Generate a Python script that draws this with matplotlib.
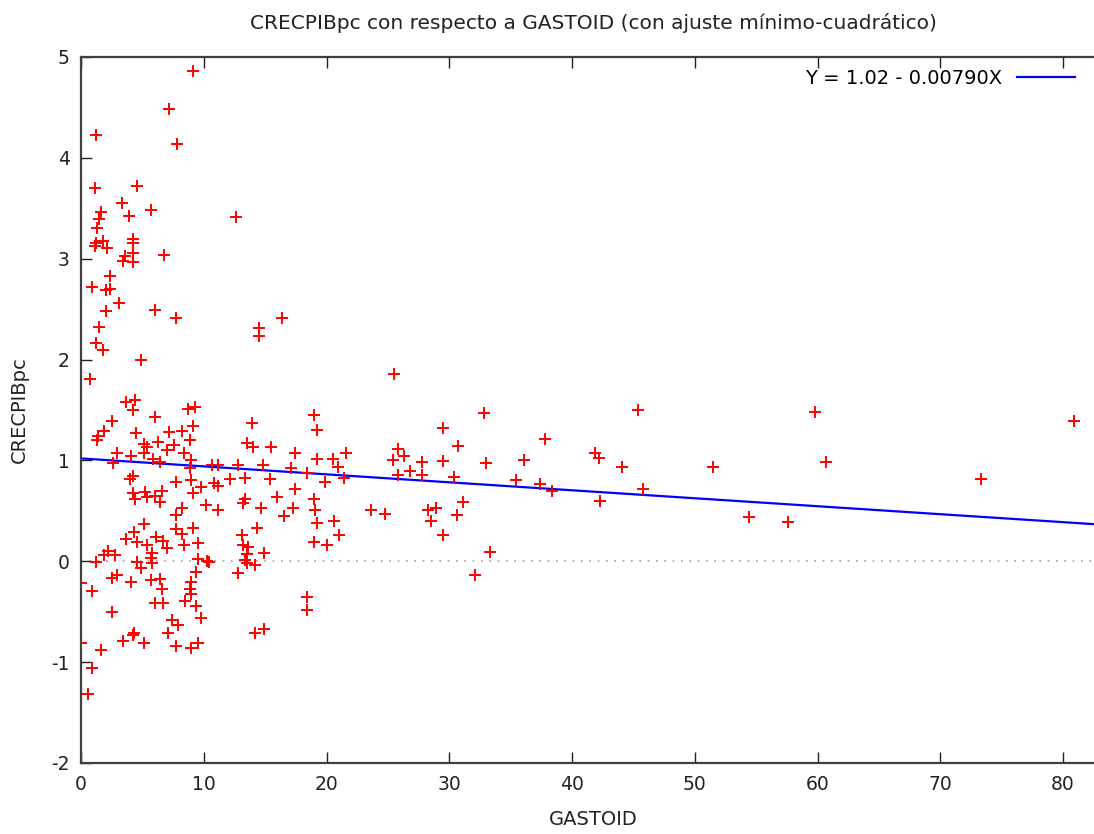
import numpy as np
import matplotlib
matplotlib.use("Agg")
import matplotlib.pyplot as plt

# GASTOID (x) and CRECPIBpc (y)
gastoid = [
    9.1, 7.2, 1.2, 7.8, 1.1, 4.6,
    3.3, 1.6, 3.9, 5.7, 12.6, 1.5, 1.3, 1.2, 1.8, 1.1, 2.1, 4.2, 4.2, 4.2,
    3.6, 3.4, 4.2, 6.8, 2.4, 0.9, 2.0, 2.4, 3.1, 2.0, 6.0, 7.7, 1.5, 14.5,
    1.2, 1.8, 14.5, 4.9, 0.7, 3.7, 4.4, 4.2, 8.7, 9.3, 6.0, 2.5, 13.9, 1.9,
    1.4, 1.3, 4.5, 7.2, 8.2, 9.1, 8.9, 6.3, 5.1, 5.4, 7.6, 7.0, 8.4, 13.5,
    14.0, 15.5, 2.9, 4.1, 5.1, 2.6, 5.9, 6.4, 9.0, 10.7, 11.2, 12.8, 14.8,
    4.2, 4.0, 7.7, 9.0, 9.8, 10.8, 11.2, 12.1, 13.4, 15.4, 8.9, 4.2, 4.4,
    5.2, 5.4, 6.0, 6.6, 6.4, 9.1, 10.2, 11.2, 13.4, 13.2, 14.7, 8.2, 7.7,
    5.1, 4.3, 3.7, 4.6, 5.4, 6.1, 6.7, 7.0, 7.7, 8.2, 9.1, 8.4, 9.5, 13.1,
    14.3, 13.2, 13.6, 13.5, 14.9, 5.8, 5.7, 5.8, 2.2, 1.9, 2.8, 1.2, 4.6,
    4.9, 9.5, 10.4, 13.4, 13.5, 14.2, 12.8, 9.4, 2.5, 2.9, 4.1, 5.7, 6.4,
    6.6, 9.0, 8.9, 0.0, 0.9, 9.0, 6.0, 6.7, 8.5,
    9.4, 2.5, 7.4, 7.9, 9.8, 7.1, 4.3, 4.2, 3.4, 5.1, 7.7, 9.0, 9.5, 0.0,
    1.6, 0.9, 0.6, 14.2, 14.9,
    19.0, 19.2, 17.4, 19.2, 20.5, 21.6, 17.1, 18.4, 20.9, 21.4, 19.9, 17.4,
    16.0, 19.0, 17.3, 16.5, 19.1, 19.2, 20.6, 21.0, 19.0, 20.0, 10.3, 18.4,
    18.4, 25.8, 26.3, 25.4, 27.8, 26.8, 25.8, 27.8, 29.5, 29.5, 30.7, 30.4,
    32.8, 33.0, 23.6, 24.8, 28.3, 28.9, 28.5, 31.1, 30.6, 29.5, 33.3, 32.1,
    25.5, 16.4,
    35.4, 36.1, 37.8, 37.4, 38.4, 41.9, 42.2, 42.3, 44.1, 45.4, 45.8, 51.5,
    54.4, 57.6, 59.8, 60.7, 73.3, 80.9,
]
crecpibpc = [
    4.86, 4.48, 4.23, 4.14, 3.70, 3.72,
    3.55, 3.46, 3.42, 3.48, 3.41, 3.39, 3.30, 3.16, 3.18, 3.13, 3.11, 3.20, 3.16, 3.06,
    3.03, 2.98, 2.97, 3.04, 2.83, 2.72, 2.69, 2.70, 2.56, 2.48, 2.49, 2.41, 2.32, 2.31,
    2.16, 2.09, 2.23, 2.00, 1.81, 1.58, 1.60, 1.50, 1.51, 1.53, 1.43, 1.39, 1.37, 1.29,
    1.24, 1.20, 1.27, 1.28, 1.29, 1.34, 1.20, 1.18, 1.16, 1.13, 1.15, 1.10, 1.07, 1.17,
    1.13, 1.13, 1.07, 1.04, 1.07, 0.97, 1.01, 0.98, 1.00, 0.95, 0.95, 0.95, 0.95,
    0.85, 0.82, 0.79, 0.81, 0.74, 0.78, 0.75, 0.82, 0.83, 0.82, 0.92, 0.68, 0.62,
    0.69, 0.64, 0.65, 0.70, 0.59, 0.68, 0.56, 0.51, 0.62, 0.58, 0.53, 0.53, 0.46,
    0.37, 0.29, 0.22, 0.19, 0.16, 0.24, 0.20, 0.13, 0.32, 0.27, 0.33, 0.16, 0.18, 0.26,
    0.33, 0.16, 0.14, 0.07, 0.08, 0.08, 0.03, -0.02, 0.10, 0.06, 0.06, -0.01, -0.01,
    -0.07, 0.02, -0.01, 0.01, -0.02, -0.04, -0.12, -0.11, -0.17, -0.14, -0.21, -0.19, -0.18,
    -0.27, -0.21, -0.27, -0.22, -0.29, -0.32, -0.41, -0.41, -0.39,
    -0.44, -0.50, -0.58, -0.63, -0.56, -0.71, -0.71, -0.73, -0.79, -0.81, -0.84, -0.86, -0.81, -0.81,
    -0.88, -1.06, -1.32, -0.71, -0.67,
    1.45, 1.30, 1.07, 1.01, 1.01, 1.07, 0.92, 0.88, 0.93, 0.83, 0.79, 0.72,
    0.64, 0.62, 0.53, 0.45, 0.51, 0.38, 0.40, 0.26, 0.19, 0.16, 0.00, -0.35,
    -0.48, 1.11, 1.04, 1.00, 0.98, 0.90, 0.86, 0.86, 1.32, 0.99, 1.14, 0.84,
    1.47, 0.97, 0.51, 0.47, 0.51, 0.53, 0.40, 0.59, 0.46, 0.26, 0.09, -0.14,
    1.86, 2.41,
    0.81, 1.00, 1.21, 0.77, 0.70, 1.07, 1.02, 0.60, 0.93, 1.50, 0.72, 0.93,
    0.44, 0.39, 1.48, 0.98, 0.82, 1.39,
]

# least-squares fit shown in the key
intercept = 1.02
slope = -0.00790
fit_label = "Y = 1.02 - 0.00790X"

plt.rcParams['font.family'] = ['DejaVu Sans']
plt.rcParams['axes.unicode_minus'] = False
fig = plt.figure(figsize=(10.94, 8.34), dpi=100)
# axes runs a little past the right edge of the picture, like the reference
ax = fig.add_axes([81/1094, 1-763/834, (1106-81)/1094, (763-57)/834])

xmin, xmax = 0, 83.5
ax.axhline(0, color='#a0a0a0', lw=1.2, ls=(0, (1, 4)), zorder=1)
ax.plot(gastoid, crecpibpc, '+', color='#ff0000', markersize=9, markeredgewidth=1.4,
        linestyle='none', zorder=3)
xx = np.array([xmin, xmax])
ax.plot(xx, intercept + slope*xx, color='#0000ff', lw=1.6, label=fit_label, zorder=2)

ax.set_xlim(xmin, xmax)
ax.set_ylim(-2, 5)
ax.set_xticks(range(0, 81, 10))
ax.set_yticks(range(-2, 6))
ax.tick_params(direction='in', length=8, width=1, top=True, right=True,
               labelsize=13.5, colors='#222222')
ax.tick_params(axis='x', pad=9)
ax.tick_params(axis='y', pad=8)
for s in ax.spines.values():
    s.set_color('#404040')
    s.set_linewidth(1.6)

ax.set_title("CRECPIBpc con respecto a GASTOID (con ajuste mínimo-cuadrático)",
             fontsize=14.5, color='#222222', pad=20)
ax.set_xlabel("GASTOID", fontsize=14, color='#222222', labelpad=11)
ax.set_ylabel("CRECPIBpc", fontsize=14, color='#222222', labelpad=16)

ax.legend(loc='upper right', bbox_to_anchor=(1075/1094, 1-69/834),
          bbox_transform=fig.transFigure, frameon=False, markerfirst=False,
          handlelength=3.0, fontsize=14, borderpad=0, borderaxespad=0,
          handletextpad=0.75)

fig.savefig("out.png", dpi=100)
